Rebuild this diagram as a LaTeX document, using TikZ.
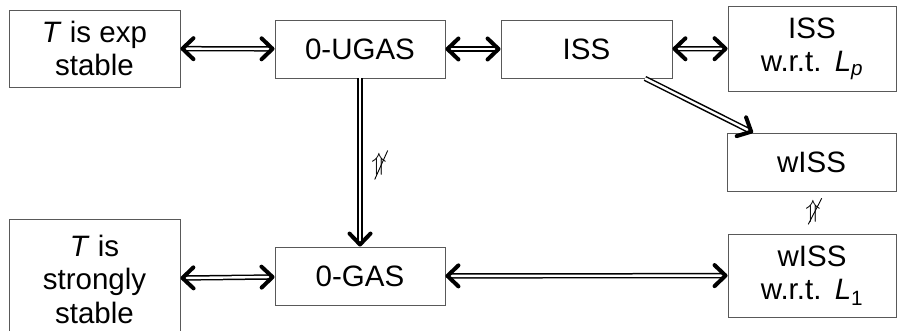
\documentclass[tikz,border=0pt]{standalone}
\usepackage{fontspec}
\setmainfont{Liberation Sans}
\usetikzlibrary{arrows.meta}
\begin{document}
\begin{tikzpicture}[x=1pt,y=1pt,
  box/.style={draw=black!65, line width=0.9pt, align=center, inner sep=0pt,
    font=\fontsize{29.5}{33.5}\selectfont},
  shaft/.style={double, double distance=2.4pt, line width=1.5pt, draw=black},
  bshaft/.style={shaft, shorten <=5pt, shorten >=5pt},
  oshaft/.style={shaft, shorten >=5pt},
  tip/.tip={Straight Barb[length=11pt, width=21pt, line width'=4pt, round, color=black]},
  bheads/.style={draw=white, line width=1pt, tip-tip},
  oheads/.style={draw=white, line width=1pt, -tip},
  slash/.style={line width=0.9pt, draw=black}]
\useasboundingbox (0,0) rectangle (897,330);
\clip (0,0) rectangle (897,330);
\node[box, minimum width=171pt, minimum height=77pt] (A) at (94.5,281.5) {\textit{T} is exp\\stable};
\node[box, minimum width=170pt, minimum height=58pt] (B) at (360,281) {0-UGAS};
\node[box, minimum width=171pt, minimum height=58pt] (C) at (586.5,281) {ISS};
\node[box, minimum width=168pt, minimum height=85pt] (D) at (812,281.5) {ISS\\w.r.t.\hspace{0.45em}\textit{L}\textsubscript{\textit{p}}};
\node[box, minimum width=169pt, minimum height=58pt] (E) at (811.5,168) {wISS};
\node[box, minimum width=171pt, minimum height=120pt] (F) at (94.5,51) {\textit{T} is\\strongly\\stable};
\node[box, minimum width=170pt, minimum height=58pt] (G) at (360,54) {0-GAS};
\node[box, minimum width=168pt, minimum height=83pt] (H) at (812,54.5) {wISS\\w.r.t.\hspace{0.45em}\textit{L}\textsubscript{1}};
\coordinate (c1) at ([xshift=58.5pt]C.south);
\coordinate (e1) at ([xshift=-58.5pt]E.north);
\foreach \p/\q in {A/B, B/C, C/D, F/G, G/H} {
  \draw[bshaft] (\p) -- (\q);
  \draw[bheads] (\p) -- (\q);
}
\draw[oshaft] (B) -- (G);
\draw[oheads] (B) -- (G);
\draw[oshaft] (c1) -- (e1);
\draw[oheads] (c1) -- (e1);
\node[inner sep=0pt, font=\fontsize{29}{29}\selectfont] (n1) at (379,166) {$\Uparrow$};
\draw[slash] (n1.center) ++(-4.3,-15.5) -- ++(13,29);
\node[inner sep=0pt, font=\fontsize{26}{26}\selectfont] (n2) at (813,119) {$\Uparrow$};
\draw[slash] (n2.center) ++(-4.7,-13.3) -- ++(13.4,26);
\end{tikzpicture}
\end{document}
